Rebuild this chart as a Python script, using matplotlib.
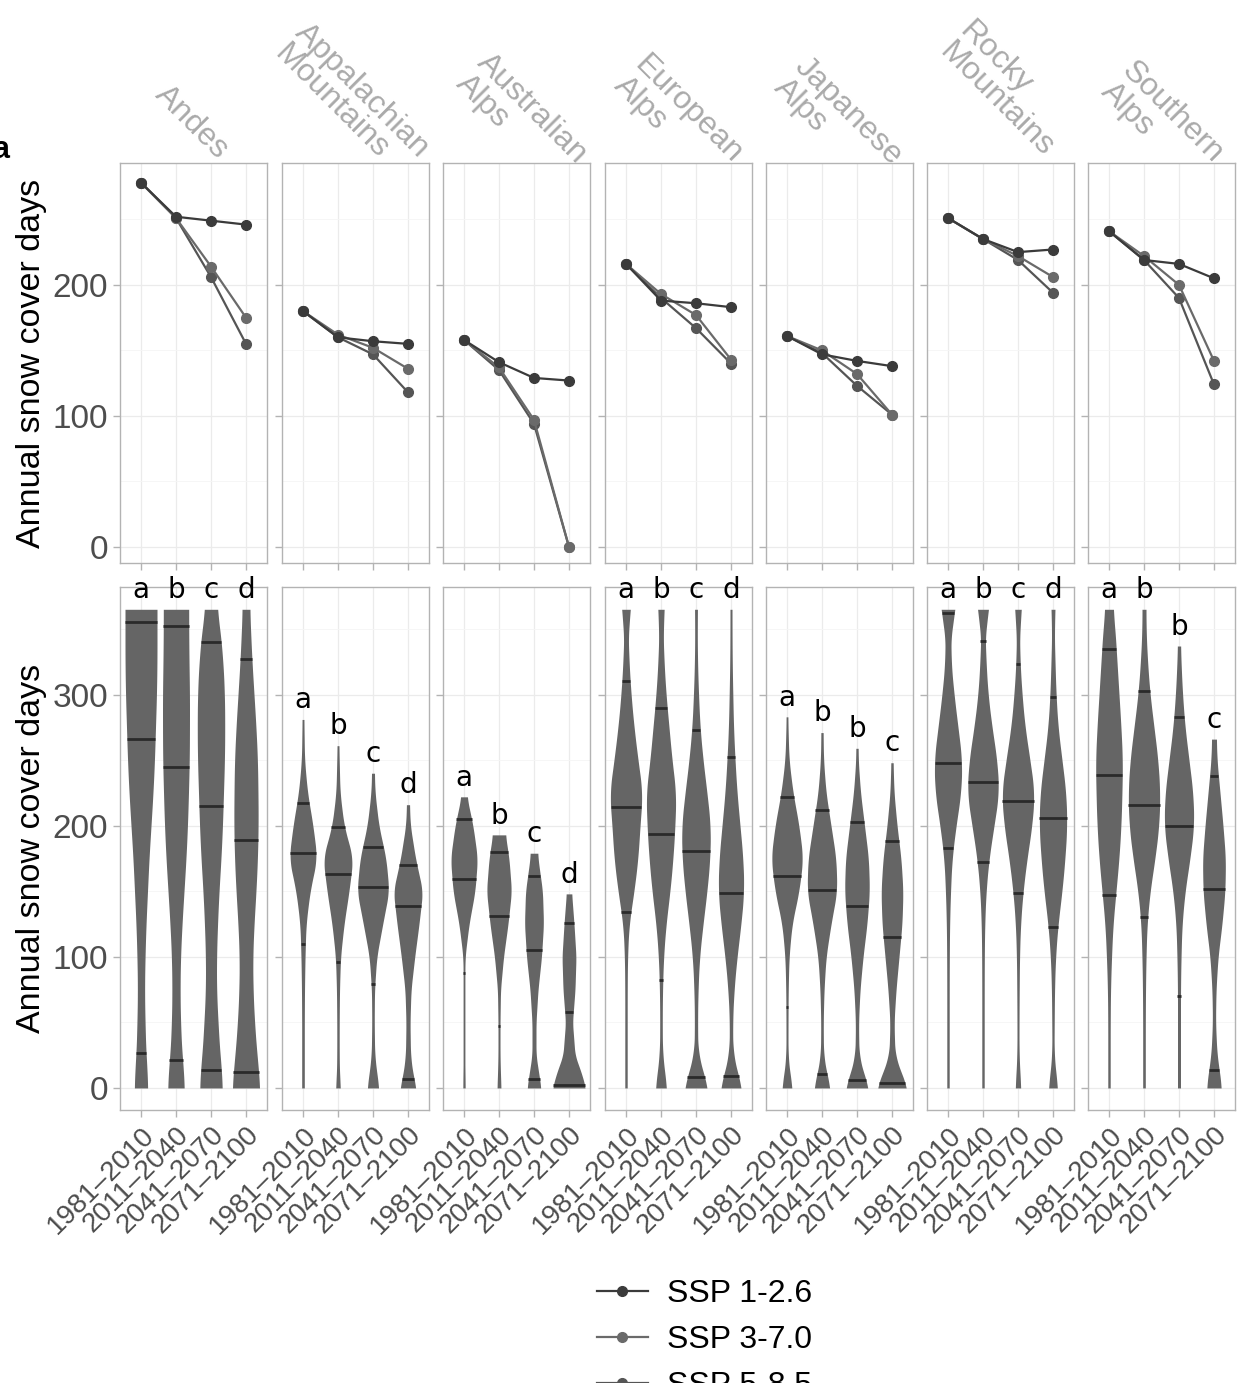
import numpy as np
import matplotlib
matplotlib.use("Agg")
import matplotlib.pyplot as plt
from matplotlib.lines import Line2D

plt.rcParams['font.family'] = ['Liberation Sans', 'DejaVu Sans']

regions = ["Andes", "Appalachian\nMountains", "Australian\nAlps", "European\nAlps",
           "Japanese\nAlps", "Rocky\nMountains", "Southern\nAlps"]
periods = ["1981\u20132010", "2011\u20132040", "2041\u20132070", "2071\u20132100"]
scenarios = ["SSP 1-2.6", "SSP 3-7.0", "SSP 5-8.5"]

# top row: mean annual snow cover days per region, per period
ssp126 = [[278, 252, 249, 246], [180, 160, 157, 155], [158, 141, 129, 127], [216, 188, 186, 183],
          [161, 147, 142, 138], [251, 235, 225, 227], [241, 219, 216, 205]]
ssp370 = [[278, 251, 214, 175], [180, 162, 152, 136], [158, 137, 97, 0], [216, 193, 177, 143],
          [161, 150, 132, 101], [251, 235, 222, 206], [241, 222, 200, 142]]
ssp585 = [[278, 251, 206, 155], [180, 160, 147, 118], [158, 135, 94, 0], [216, 190, 167, 140],
          [161, 148, 123, 101], [251, 235, 219, 194], [241, 219, 190, 124]]

# bottom row: violin density profiles (relative half-widths) on a common value grid
Y_GRID = [0, 10, 25, 50, 75, 100, 125, 150, 175, 200, 225, 250, 275, 300, 325, 350, 365]
violin_max = [[365, 365, 365, 365], [281, 261, 240, 216], [222, 193, 179, 148], [365, 365, 365, 365],
              [283, 271, 259, 248], [365, 365, 365, 365], [365, 365, 337, 266]]
violin_width = [
    [[6.7, 6.5, 5, 4, 3.5, 4, 5, 6.5, 8, 10, 12, 13.5, 14.5, 15.5, 16, 16, 16],
     [8.3, 8, 6, 4.5, 4, 4.5, 6, 8, 10, 11.5, 12.5, 13.3, 13.5, 13.5, 13, 12.7, 12.7],
     [11.3, 11, 9, 7, 5.5, 5.5, 6.5, 8, 10, 11.5, 12.5, 13.5, 13.8, 13.5, 12, 9, 6],
     [13.8, 13, 11, 8.5, 7, 6.7, 8, 10, 11.5, 12.2, 12, 11.5, 10, 8, 6, 4.5, 3.8]],
    [[1.3, 1.3, 1.3, 1.3, 1.5, 2, 3, 7, 14, 10, 4.5, 1.5, 1, 0.5, 0, 0, 0],
     [2.5, 1.5, 1.2, 1.2, 1.5, 2.5, 6, 11, 15, 6, 2, 1.2, 0.5, 0, 0, 0, 0],
     [6, 4, 1.7, 1.2, 1.5, 3.7, 9.7, 16, 13, 5.8, 2, 1, 0, 0, 0, 0, 0],
     [8.3, 5, 2.5, 2, 3, 6.7, 11, 14.7, 7.5, 2.3, 1, 0, 0, 0, 0, 0, 0]],
    [[1.2, 1, 0.8, 0.8, 0.8, 1, 5, 11, 13.5, 9, 2, 0, 0, 0, 0, 0, 0],
     [2, 1.5, 1, 1, 1.5, 4.5, 9, 12.5, 10, 5, 0, 0, 0, 0, 0, 0, 0],
     [7, 5, 2, 2, 4, 7.5, 9.5, 8.5, 4, 2, 0, 0, 0, 0, 0, 0, 0],
     [16.5, 13, 6, 3.5, 6, 7, 5, 2.5, 1, 0, 0, 0, 0, 0, 0, 0, 0]],
    [[1.2, 1.2, 1.2, 1.2, 1.2, 1.5, 3, 8, 12, 14, 16.5, 12, 8, 5, 3, 2, 5],
     [6, 4, 1.5, 1.2, 1.5, 2.5, 5, 9, 12, 14, 15, 11, 8, 5, 3, 2, 3.5],
     [12.5, 8, 2, 1.5, 2, 3.5, 7, 11, 14, 14.5, 11, 7, 4, 2.5, 1.5, 1.2, 1.5],
     [11.5, 7, 2, 1.5, 3, 6, 10, 13, 12, 9, 6, 4, 2.5, 1.8, 1.2, 1, 1]],
    [[5.5, 3, 1, 1, 1.2, 2, 5, 12, 16, 12, 6, 2, 1, 0.5, 0, 0, 0],
     [8.5, 5, 1.5, 1.2, 2, 4, 9, 15, 14, 9, 4, 1.5, 1, 0.5, 0, 0, 0],
     [12, 7, 2, 1.5, 3, 6, 10, 12.5, 11.5, 7.5, 3.5, 1.2, 1, 0, 0, 0, 0],
     [15.5, 10, 3, 2, 4, 7, 10, 11, 9, 5, 2, 1, 0.5, 0, 0, 0, 0]],
    [[1.2, 1.2, 1.2, 1.2, 1.2, 1.3, 1.6, 2.5, 4, 8, 13, 14, 10, 6, 3, 3, 8],
     [1.2, 1.2, 1.2, 1.2, 1.2, 1.3, 1.7, 3, 6, 11, 16, 14, 9, 5, 3, 2, 6.5],
     [3, 2, 1, 1, 1.2, 1.5, 2.5, 5, 9, 14, 16.5, 12, 7, 4, 2, 1.5, 3.8],
     [5, 3, 1, 1.2, 1.5, 2.5, 5, 9, 12, 14, 13, 9, 5, 3, 2, 1.2, 2.2]],
    [[1.2, 1.2, 1.2, 1.2, 1.5, 2.5, 4, 7, 10, 12, 13, 13.5, 12, 10, 8, 6, 4],
     [1.3, 1.3, 1.3, 1.3, 1.5, 2, 3, 6, 11, 15, 16, 14, 10, 6, 3.5, 2, 2],
     [1.5, 1.5, 1.5, 1.5, 1.5, 2, 3, 6, 11, 15, 14, 10, 6, 3.5, 2, 1, 0],
     [7.5, 6, 3, 1.5, 2, 4, 8, 11, 11.5, 9, 6, 3, 2, 0, 0, 0, 0]],
]
# quantile lines (10%, 50%, 90%)
violin_q = [
    [[27, 266, 355], [21, 245, 352], [14, 215, 340], [12, 189, 327]],
    [[110, 179, 217], [96, 163, 199], [79, 153, 184], [7, 139, 170]],
    [[88, 159, 205], [47, 131, 180], [7, 105, 162], [2, 58, 126]],
    [[134, 214, 310], [82, 194, 290], [8, 181, 273], [9, 149, 252]],
    [[62, 162, 222], [11, 151, 212], [6, 139, 203], [4, 115, 188]],
    [[183, 248, 362], [172, 233, 341], [149, 219, 323], [123, 206, 298]],
    [[147, 239, 335], [130, 216, 303], [70, 200, 283], [14, 152, 238]],
]
letters = [list("abcd"), list("abcd"), list("abcd"), list("abcd"),
           list("abbc"), list("abcd"), list("abbc")]

W, H = 1241, 1383
fig = plt.figure(figsize=(W / 100, H / 100), dpi=100)
panel_x = [120, 282, 443, 605, 766, 927, 1088]
pw = 147
strip_pos = [(170, 80), (310, 18), (492, 48), (650, 50), (810, 52), (975, 16), (1137, 56)]

col126, col370, col585 = "#3b3b3b", "#6a6a6a", "#555555"
violin_col = "#656565"
grid_col = "#ebebeb"
border = "#b3b3b3"
tickc = "#4d4d4d"

def style(ax):
    for s in ax.spines.values():
        s.set_color(border)
        s.set_linewidth(1.0)
    ax.set_xlim(0.4, 4.6)
    ax.set_xticks([1, 2, 3, 4])
    ax.tick_params(axis='both', colors=border, length=5, width=1, labelcolor=tickc)
    ax.grid(True, which='major', color=grid_col, lw=0.9)
    ax.grid(True, which='minor', axis='y', color="#f5f5f5", lw=0.6)
    ax.set_axisbelow(True)

for i in range(7):
    x0 = panel_x[i] / W
    # top
    axt = fig.add_axes([x0, 1 - 563 / H, pw / W, 400 / H])
    style(axt)
    axt.set_ylim(-12.2, 293)
    axt.set_yticks([0, 100, 200])
    axt.set_yticks([50, 150, 250], minor=True)
    axt.tick_params(axis='y', which='minor', length=0)
    axt.set_xticklabels([])
    xs = np.arange(1, 5)
    for vals, c in [(ssp585[i], col585), (ssp370[i], col370), (ssp126[i], col126)]:
        axt.plot(xs, vals, '-o', color=c, lw=1.6, ms=7, zorder=3)
    if i == 0:
        axt.tick_params(axis='y', labelsize=24)
        axt.set_ylabel("Annual snow cover days", fontsize=24.5, color="black", labelpad=4)
    else:
        axt.set_yticklabels([])
    sx, sy = strip_pos[i]
    fig.text(sx / W, 1 - sy / H, regions[i], rotation=-45, rotation_mode='anchor',
             ha='left', va='top', fontsize=23, color="#aaaaaa", linespacing=0.95)

    # bottom
    axb = fig.add_axes([x0, 1 - 1110 / H, pw / W, 523 / H])
    style(axb)
    axb.set_ylim(-16.8, 382)
    axb.set_yticks([0, 100, 200, 300])
    axb.set_yticks([50, 150, 250, 350], minor=True)
    axb.tick_params(axis='y', which='minor', length=0)
    for j in range(4):
        top = violin_max[i][j]
        yy = np.linspace(0, top, 400)
        ww = np.interp(yy, Y_GRID, violin_width[i][j])
        k = 15
        pad = np.pad(ww, k, mode='edge')
        ww = np.convolve(pad, np.ones(2 * k + 1) / (2 * k + 1), mode='same')[k:-k]
        ww = np.maximum(ww, 0.9) / 35.0
        axb.fill_betweenx(yy, j + 1 - ww, j + 1 + ww, color=violin_col, lw=0, zorder=2)
        for q in violin_q[i][j]:
            hw = np.interp(q, yy, ww)
            axb.plot([j + 1 - hw, j + 1 + hw], [q, q], color="#2a2a2a", lw=2, zorder=3,
                     solid_capstyle='butt')
        axb.text(j + 1, top + 4, letters[i][j], ha='center', va='bottom', fontsize=20,
                 family='DejaVu Sans', color='black', zorder=4)
    axb.set_xticklabels(periods, rotation=45, ha='right', rotation_mode='anchor',
                        fontsize=20)
    if i == 0:
        axb.tick_params(axis='y', labelsize=24)
        axb.set_ylabel("Annual snow cover days", fontsize=24.5, color="black", labelpad=4)
    else:
        axb.set_yticklabels([])

fig.text(-0.006, 1 - 150 / H, "a", fontsize=22, fontweight='bold', va='center')

handles = [Line2D([0], [0], color=c, marker='o', lw=1.6, ms=7)
           for c in (col126, col370, col585)]
fig.legend(handles, scenarios, loc='upper left', bbox_to_anchor=(568 / W, 1 - 1250 / H),
           frameon=False, fontsize=23, handlelength=1.6, labelspacing=0.5,
           handletextpad=0.6)

fig.savefig("out.png", dpi=100)
